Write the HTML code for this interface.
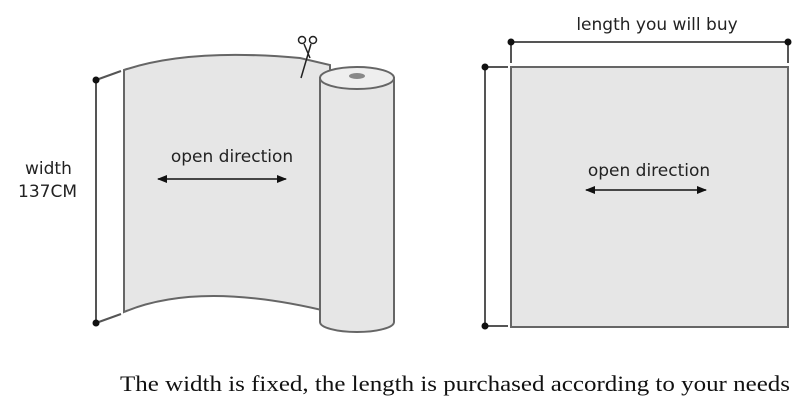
<!DOCTYPE html>
<html><head><style>body{margin:0;background:#fff}svg{display:block}</style></head><body>
<svg width="800" height="408" viewBox="0 0 800 408" xmlns="http://www.w3.org/2000/svg">
<defs><marker id="a" markerWidth="10" markerHeight="8" refX="9" refY="4" orient="auto-start-reverse" markerUnits="userSpaceOnUse"><path d="M0,0 L10,4 L0,8 Z" fill="#111"/></marker></defs>
<g stroke="#555" stroke-width="2" fill="none">
<line x1="96" y1="80" x2="96" y2="323"/>
<line x1="96" y1="80" x2="121" y2="71"/>
<line x1="96" y1="323" x2="121" y2="314"/>
<line x1="511" y1="42" x2="788" y2="42"/>
<line x1="511" y1="42" x2="511" y2="63"/>
<line x1="788" y1="42" x2="788" y2="63"/>
<line x1="485" y1="67" x2="485" y2="326"/>
<line x1="485" y1="67" x2="508" y2="67"/>
<line x1="485" y1="326" x2="508" y2="326"/>
</g>
<path d="M124,70 Q190,48 300,58 L330,65 L330,312 Q200,280 124,312 Z" fill="#e6e6e6" stroke="#666" stroke-width="2"/>
<path d="M320,78 L320,322 A37,10 0 0 0 394,322 L394,78 Z" fill="#e6e6e6" stroke="#666" stroke-width="2"/>
<ellipse cx="357" cy="78" rx="37" ry="11" fill="#eee" stroke="#666" stroke-width="2"/>
<ellipse cx="357" cy="76" rx="8" ry="3" fill="#888"/>
<g stroke="#222" stroke-width="1.5" fill="none"><circle cx="302" cy="40" r="3.5"/><circle cx="313" cy="40" r="3.5"/><path d="M304,44 L310,58 M311,44 L301,78"/></g>
<rect x="511" y="67" width="277" height="260" fill="#e6e6e6" stroke="#666" stroke-width="2"/>
<g fill="#111"><circle cx="96" cy="80" r="3.5"/><circle cx="96" cy="323" r="3.5"/><circle cx="511" cy="42" r="3.5"/><circle cx="788" cy="42" r="3.5"/><circle cx="485" cy="67" r="3.5"/><circle cx="485" cy="326" r="3.5"/></g>
<g stroke="#111" stroke-width="1.5" marker-start="url(#a)" marker-end="url(#a)">
<line x1="158" y1="179" x2="286" y2="179"/>
<line x1="586" y1="190" x2="706" y2="190"/>
</g>
<g font-family="'DejaVu Sans','Liberation Sans',sans-serif" font-size="17" fill="#222">
<text x="232" y="162" text-anchor="middle">open direction</text>
<text x="649" y="176" text-anchor="middle">open direction</text>
<text x="657" y="30" text-anchor="middle">length you will buy</text>
<text x="25" y="174">width</text>
<text x="18" y="197">137CM</text>
</g>
<text x="120" y="391" textLength="670" lengthAdjust="spacingAndGlyphs" font-family="'Liberation Serif',serif" font-size="22" fill="#111">The width is fixed, the length is purchased according to your needs</text>
</svg>
</body></html>
